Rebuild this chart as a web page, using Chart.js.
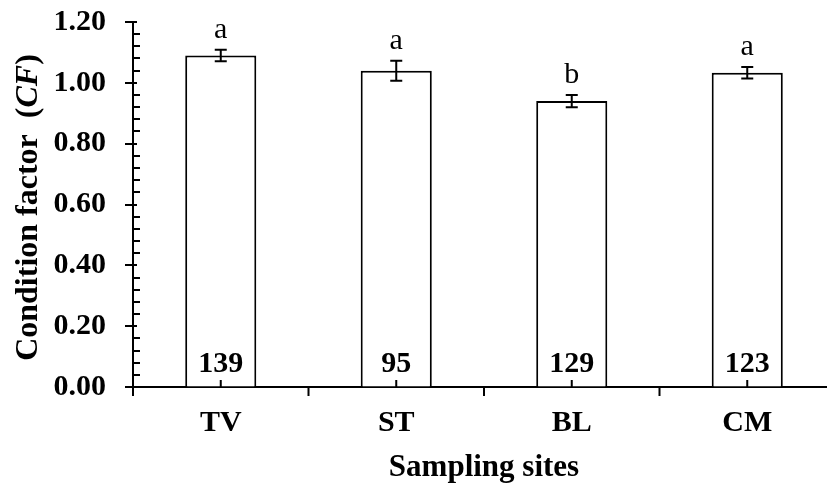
<!DOCTYPE html>
<html>
<head>
<meta charset="utf-8">
<script src="https://cdn.jsdelivr.net/npm/chart.js@4"></script>
<style>
    html, body { margin: 0; padding: 0; background: #fff; overflow: hidden; }
    canvas { display: block; }
</style>
</head>
<body>
<canvas id="cfChart" width="840" height="487"></canvas>
<script>
// data
const sites = ["TV", "ST", "BL", "CM"];
const cfMeans = [1.09, 1.04, 0.94, 1.033];
const cfErrors = [0.019, 0.033, 0.02, 0.019];
const groupLetters = ["a", "a", "b", "a"];
const sampleSizes = [139, 95, 129, 123];
const yTicks = [0, 0.2, 0.4, 0.6, 0.8, 1.0, 1.2];

const serif = "'Liberation Serif', 'Times New Roman', serif";

// error bars, letters, sample sizes and the odd tick marks
const extrasPlugin = {
    id: "extras",
    afterDatasetsDraw(chart) {
        const ctx = chart.ctx;
        const x = chart.scales.x;
        const y = chart.scales.y;
        const area = chart.chartArea;
        ctx.save();
        ctx.strokeStyle = "#000";
        ctx.fillStyle = "#000";
        ctx.lineWidth = 2;

        sites.forEach((s, i) => {
            const cx = x.getPixelForValue(i);
            const top = y.getPixelForValue(cfMeans[i] + cfErrors[i]);
            const bot = y.getPixelForValue(cfMeans[i] - cfErrors[i]);
            ctx.beginPath();
            ctx.moveTo(cx, top); ctx.lineTo(cx, bot);
            ctx.moveTo(cx - 6, top); ctx.lineTo(cx + 6, top);
            ctx.moveTo(cx - 6, bot); ctx.lineTo(cx + 6, bot);
            // small upward tick at the bar centre
            ctx.moveTo(cx, area.bottom); ctx.lineTo(cx, area.bottom - 7);
            ctx.stroke();

            ctx.textAlign = "center";
            ctx.textBaseline = "alphabetic";
            ctx.font = "30px " + serif;
            ctx.fillText(groupLetters[i], cx, top - 12);

            ctx.font = "bold 30px " + serif;
            ctx.fillText(String(sampleSizes[i]), cx, area.bottom - 15);
        });

        // x ticks at category boundaries, pointing down
        ctx.beginPath();
        for (let i = 0; i <= sites.length; i++) {
            const bx = x.getPixelForValue(i - 0.5);
            ctx.moveTo(bx, area.bottom); ctx.lineTo(bx, area.bottom + 9);
        }
        // y ticks: major cross the axis, minor point inward
        for (let v = 0; v <= 1.2001; v += 0.04) {
            const py = Math.round(y.getPixelForValue(v));
            const major = Math.abs(v / 0.2 - Math.round(v / 0.2)) < 1e-6;
            if (major) {
                ctx.moveTo(area.left - 8, py); ctx.lineTo(area.left + 4, py);
            } else {
                ctx.moveTo(area.left, py); ctx.lineTo(area.left + 7, py);
            }
        }
        ctx.stroke();

        // y axis title with italic CF
        const parts = [
            { t: "Condition factor  (", f: "bold 32px " + serif },
            { t: "CF", f: "italic bold 32px " + serif },
            { t: ")", f: "bold 32px " + serif }
        ];
        let total = 0;
        parts.forEach(p => { ctx.font = p.f; p.w = ctx.measureText(p.t).width; total += p.w; });
        ctx.translate(37, (area.top + area.bottom) / 2 + 3);
        ctx.rotate(-Math.PI / 2);
        ctx.textAlign = "left";
        ctx.textBaseline = "alphabetic";
        let pos = -total / 2;
        parts.forEach(p => { ctx.font = p.f; ctx.fillText(p.t, pos, 0); pos += p.w; });
        ctx.restore();
    }
};

new Chart(document.getElementById("cfChart"), {
    type: "bar",
    data: {
        labels: sites,
        datasets: [{
            data: cfMeans,
            backgroundColor: "#fff",
            borderColor: "#000",
            borderWidth: 2,
            barPercentage: 0.405,
            categoryPercentage: 1
        }]
    },
    options: {
        responsive: false,
        animation: false,
        devicePixelRatio: 1,
        layout: { padding: { top: 22, right: 5, bottom: 0, left: 0 } },
        plugins: {
            legend: { display: false },
            tooltip: { enabled: false }
        },
        scales: {
            x: {
                grid: { display: true, drawOnChartArea: false, drawTicks: false },
                border: { display: true, color: "#000", width: 2 },
                ticks: {
                    color: "#000",
                    padding: 18,
                    font: { family: serif, size: 30, weight: "bold" }
                },
                title: {
                    display: true,
                    text: "Sampling sites",
                    color: "#000",
                    padding: { top: 6, bottom: 0 },
                    font: { family: serif, size: 31, weight: "bold" }
                },
                afterFit(scale) {
                    scale.height = 100;
                    scale.paddingLeft = 0;
                    scale.paddingRight = 0;
                }
            },
            y: {
                min: 0,
                max: 1.2,
                afterBuildTicks(scale) { scale.ticks = yTicks.map(v => ({ value: v })); },
                grid: { display: true, drawOnChartArea: false, drawTicks: false },
                border: { display: true, color: "#000", width: 2 },
                ticks: {
                    color: "#000",
                    padding: 27,
                    font: { family: serif, size: 30, weight: "bold" },
                    callback: v => Number(v).toFixed(2)
                },
                afterFit(scale) {
                    scale.width = 133;
                    scale.paddingTop = 0;
                    scale.paddingBottom = 0;
                }
            }
        }
    },
    plugins: [extrasPlugin]
});
</script>
</body>
</html>
